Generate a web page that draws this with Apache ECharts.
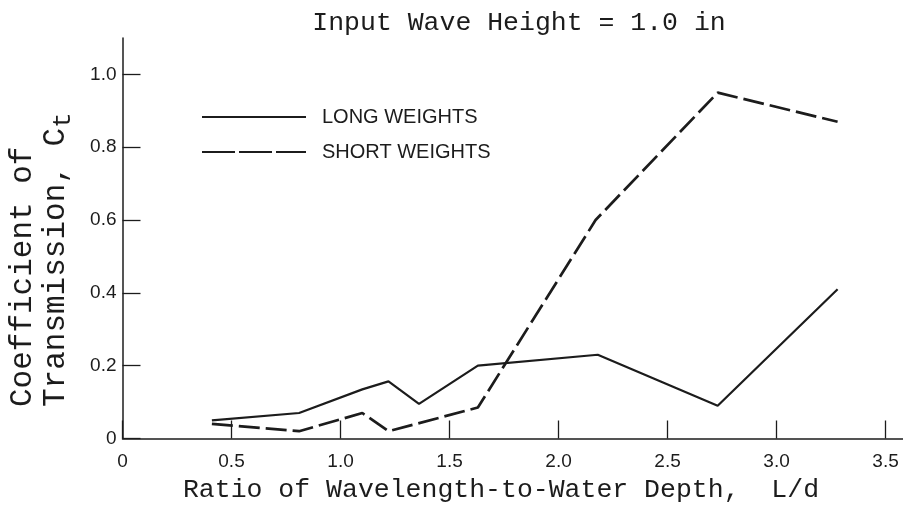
<!DOCTYPE html>
<html>
<head>
<meta charset="utf-8">
<script src="https://cdn.jsdelivr.net/npm/echarts@6/dist/echarts.min.js"></script>
<style>
  html, body { margin: 0; padding: 0; background: #ffffff; }
  #chart { width: 903px; height: 513px; }
</style>
</head>
<body>
<div id="chart"></div>
<script>
// Transmission coefficient Ct vs. L/d for an input wave height of 1.0 in
const longLd = [0.41, 0.81, 1.10, 1.22, 1.36, 1.63, 2.18, 2.73, 3.28];
const longCt = [0.05, 0.07, 0.135, 0.157, 0.095, 0.20, 0.23, 0.09, 0.41];

const shortLd = [0.41, 0.81, 1.10, 1.22, 1.63, 2.17, 2.73, 3.28];
const shortCt = [0.04, 0.02, 0.07, 0.02, 0.085, 0.60, 0.95, 0.87];

const xTickValues = [0, 0.5, 1.0, 1.5, 2.0, 2.5, 3.0, 3.5];
const xTickLabels = ['0', '0.5', '1.0', '1.5', '2.0', '2.5', '3.0', '3.5'];
const yTickValues = [0, 0.2, 0.4, 0.6, 0.8, 1.0];
const yTickLabels = ['0', '0.2', '0.4', '0.6', '0.8', '1.0'];

const seriesNames = ['LONG WEIGHTS', 'SHORT WEIGHTS'];
const titleText = 'Input Wave Height = 1.0 in';
const xTitle = 'Ratio of Wavelength-to-Water Depth,  L/d';
const yTitleLine1 = 'Coefficient of';
const yTitleLine2 = 'Transmission, C';
const yTitleSub = 't';

const MONO = '"Liberation Mono", "DejaVu Sans Mono", monospace';
const SANS = '"Liberation Sans", Arial, sans-serif';
const INK = '#1c1c1c';

function pairs(xs, ys) {
  return xs.map((x, i) => [x, ys[i]]);
}
function labelFor(values, labels) {
  return (v) => {
    const i = values.findIndex((t) => Math.abs(t - v) < 1e-9);
    return i >= 0 ? labels[i] : '';
  };
}

const chart = echarts.init(document.getElementById('chart'), null, { renderer: 'canvas' });

chart.setOption({
  backgroundColor: '#ffffff',
  animation: false,
  title: {
    text: titleText,
    left: 514,
    top: 4,
    textAlign: 'center',
    textStyle: { fontFamily: MONO, fontSize: 26.5, fontWeight: 'normal', color: INK, lineHeight: 28 }
  },
  legend: {
    orient: 'vertical',
    left: 196,
    top: 102,
    itemWidth: 104,
    itemHeight: 14,
    itemGap: 15,
    // line-only keys: the marker circle is hidden
    itemStyle: { opacity: 0, borderWidth: 0 },
    textStyle: { fontFamily: SANS, fontSize: 20, color: INK, lineHeight: 20, padding: [0, 0, 0, 11] },
    data: [
      { name: seriesNames[0] },
      { name: seriesNames[1], lineStyle: { type: [33, 4] } }
    ]
  },
  grid: {
    left: 122.5,
    right: 0,
    top: 38,
    bottom: 74.5,
    containLabel: false,
    outerBoundsMode: 'none'
  },
  xAxis: {
    type: 'value',
    min: 0,
    max: 3.58,
    axisLine: { show: true, lineStyle: { color: INK, width: 1.5 } },
    axisTick: {
      show: true,
      inside: true,
      length: 18,
      customValues: xTickValues,
      lineStyle: { color: INK, width: 1.3 }
    },
    axisLabel: {
      show: true,
      margin: 14,
      customValues: xTickValues,
      formatter: labelFor(xTickValues, xTickLabels),
      fontFamily: SANS,
      fontSize: 19,
      color: INK
    },
    splitLine: { show: false }
  },
  yAxis: {
    type: 'value',
    min: 0,
    max: 1.1,
    axisLine: { show: true, lineStyle: { color: INK, width: 1.5 } },
    axisTick: {
      show: true,
      inside: true,
      length: 18,
      customValues: yTickValues,
      lineStyle: { color: INK, width: 1.3 }
    },
    axisLabel: {
      show: true,
      margin: 6,
      customValues: yTickValues,
      formatter: labelFor(yTickValues, yTickLabels),
      fontFamily: SANS,
      fontSize: 19,
      color: INK
    },
    splitLine: { show: false }
  },
  graphic: [
    {
      type: 'text',
      x: 501,
      y: 490,
      style: {
        text: xTitle,
        font: '26.5px ' + MONO,
        fill: INK,
        textAlign: 'center',
        textVerticalAlign: 'middle'
      }
    },
    {
      type: 'text',
      x: 39,
      y: 407,
      rotation: Math.PI / 2,
      style: {
        text: yTitleLine1 + '\n' + yTitleLine2 + '{sub|' + yTitleSub + '}',
        font: '31px ' + MONO,
        fill: INK,
        lineHeight: 33,
        textAlign: 'left',
        textVerticalAlign: 'middle',
        rich: {
          sub: { font: '26px ' + MONO, fill: INK, lineHeight: 10, padding: [16, 0, 0, 0] }
        }
      }
    }
  ],
  series: [
    {
      name: seriesNames[0],
      type: 'line',
      data: pairs(longLd, longCt),
      symbol: 'none',
      lineStyle: { color: INK, width: 2.2, type: 'solid' },
      itemStyle: { color: INK }
    },
    {
      name: seriesNames[1],
      type: 'line',
      data: pairs(shortLd, shortCt),
      symbol: 'none',
      lineStyle: { color: INK, width: 2.7, type: [21, 6] },
      itemStyle: { color: INK }
    }
  ]
});
</script>
</body>
</html>
